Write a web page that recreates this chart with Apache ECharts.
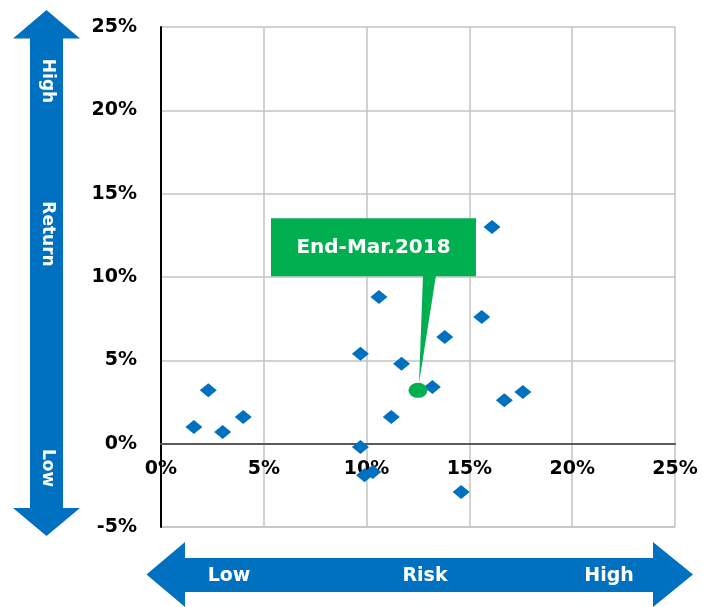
<!DOCTYPE html>
<html>
<head>
<meta charset="utf-8">
<script src="https://cdn.jsdelivr.net/npm/echarts@6/dist/echarts.min.js"></script>
<style>
html,body{margin:0;padding:0;background:#fff;}
#chart{width:703px;height:607px;}
</style>
</head>
<body>
<div id="chart"></div>
<script>
// Risk (x, %) and Return (y, %) of each asset
const riskValues   = [1.6, 2.3, 3.0, 4.0, 9.7, 9.7, 9.9, 10.3, 10.6, 11.2, 11.7, 13.2, 13.8, 14.6, 15.6, 16.1, 16.7, 17.6];
const returnValues = [1.0, 3.2, 0.7, 1.6, 5.4, -0.2, -1.9, -1.7, 8.8, 1.6, 4.8, 3.4, 6.4, -2.9, 7.6, 13.0, 2.6, 3.1];
// Highlighted portfolio point
const highlightRisk = [12.5];
const highlightReturn = [3.2];
const highlightLabel = 'End-Mar.2018';
// Axis ticks
const xTicks = [0, 5, 10, 15, 20, 25];
const yTicks = [-5, 0, 5, 10, 15, 20, 25];
const axisTexts = { yHigh: 'High', yName: 'Return', yLow: 'Low', xLow: 'Low', xName: 'Risk', xHigh: 'High' };

const BLUE = '#0070C0', GREEN = '#00B050';
const FONT = '"DejaVu Sans", sans-serif';

const GRID_H = 500;
const yMin = yTicks[0], yMax = yTicks[yTicks.length - 1];
const zeroOffset = -GRID_H * (0 - yMin) / (yMax - yMin);

const chart = echarts.init(document.getElementById('chart'));
const labelStyle = { color: '#000', fontFamily: FONT, fontWeight: 'bold', fontSize: 19 };

chart.setOption({
  animation: false,
  grid: { left: 161, top: 27, width: 514, height: GRID_H, containLabel: false },
  xAxis: [{
    type: 'value', min: xTicks[0], max: xTicks[xTicks.length - 1], interval: 5,
    position: 'bottom', offset: zeroOffset,
    axisLine: { onZero: false, lineStyle: { color: '#5a5a5a', width: 2 } },
    axisTick: { show: false },
    axisLabel: Object.assign({ margin: 16, formatter: v => v + '%' }, labelStyle),
    splitLine: { show: true, lineStyle: { color: '#c3c3c3', width: 1.5 } }
  }],
  yAxis: [{
    type: 'value', min: yMin, max: yMax, interval: 5,
    axisLine: { show: true, onZero: false, lineStyle: { color: '#000', width: 2 } },
    axisTick: { show: false },
    axisLabel: Object.assign({ margin: 24, formatter: v => v + '%' }, labelStyle),
    splitLine: { show: true, lineStyle: { color: '#c3c3c3', width: 1.5 } }
  }],
  series: [
    {
      type: 'scatter', symbol: 'diamond', symbolSize: [17, 14],
      itemStyle: { color: BLUE, opacity: 1 },
      data: riskValues.map((r, i) => [r, returnValues[i]]),
      z: 3
    },
    {
      type: 'scatter', symbol: 'circle', symbolSize: [19, 15],
      itemStyle: { color: GREEN, opacity: 1 },
      data: highlightRisk.map((r, i) => [r, highlightReturn[i]]),
      z: 4
    }
  ]
});

// Callout anchored to the highlighted point
const p = chart.convertToPixel({ gridIndex: 0 }, [highlightRisk[0], highlightReturn[0]]);
const px = p[0], py = p[1];
const gb = chart.convertToPixel({ gridIndex: 0 }, [xTicks[xTicks.length - 1], yMin]);

const graphics = [
  // bottom border of plot
  { type: 'line', z: 0, shape: { x1: 161, y1: gb[1], x2: gb[0], y2: gb[1] }, style: { stroke: '#c3c3c3', lineWidth: 1.5 } },
  // callout
  { type: 'polygon', z: 10, shape: { points: [[px + 5, py - 115], [px + 18, py - 115], [px + 1, py - 7]] }, style: { fill: GREEN } },
  { type: 'rect', z: 10, shape: { x: px - 147, y: py - 172, width: 205, height: 58 }, style: { fill: GREEN } },
  { type: 'text', z: 11, x: px - 44.5, y: py - 143, style: { text: highlightLabel, fill: '#fff', font: 'bold 20px ' + FONT, textAlign: 'center', textVerticalAlign: 'middle' } },
  // vertical Return arrow
  { type: 'polygon', z: 1, shape: { points: [[46.5, 10], [80, 38.5], [63, 38.5], [63, 508], [80, 508], [46.5, 536], [13, 508], [30, 508], [30, 38.5], [13, 38.5]] }, style: { fill: BLUE } },
  { type: 'text', z: 2, x: 47, y: 81, rotation: -Math.PI / 2, style: { text: axisTexts.yHigh, fill: '#fff', font: 'bold 17px ' + FONT, textAlign: 'center', textVerticalAlign: 'middle' } },
  { type: 'text', z: 2, x: 47, y: 234, rotation: -Math.PI / 2, style: { text: axisTexts.yName, fill: '#fff', font: 'bold 17px ' + FONT, textAlign: 'center', textVerticalAlign: 'middle' } },
  { type: 'text', z: 2, x: 47, y: 468, rotation: -Math.PI / 2, style: { text: axisTexts.yLow, fill: '#fff', font: 'bold 17px ' + FONT, textAlign: 'center', textVerticalAlign: 'middle' } },
  // horizontal Risk arrow
  { type: 'polygon', z: 1, shape: { points: [[146.5, 574.5], [185, 542], [185, 558], [653, 558], [653, 542], [693, 574.5], [653, 607], [653, 592], [185, 592], [185, 607]] }, style: { fill: BLUE } },
  { type: 'text', z: 2, x: 229, y: 576, style: { text: axisTexts.xLow, fill: '#fff', font: 'bold 19px ' + FONT, textAlign: 'center', textVerticalAlign: 'middle' } },
  { type: 'text', z: 2, x: 425, y: 576, style: { text: axisTexts.xName, fill: '#fff', font: 'bold 19px ' + FONT, textAlign: 'center', textVerticalAlign: 'middle' } },
  { type: 'text', z: 2, x: 609, y: 576, style: { text: axisTexts.xHigh, fill: '#fff', font: 'bold 19px ' + FONT, textAlign: 'center', textVerticalAlign: 'middle' } }
];
chart.setOption({ graphic: graphics });
</script>
</body>
</html>
